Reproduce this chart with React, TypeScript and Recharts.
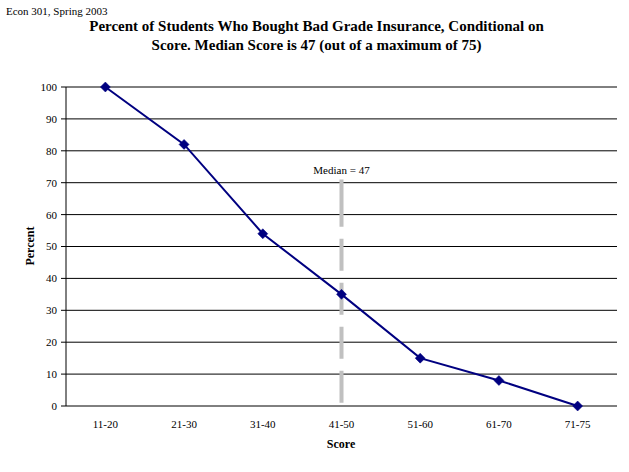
import React from 'react';
import { LineChart, Line, XAxis, YAxis, CartesianGrid, ReferenceLine } from 'recharts';

const categories = ['11-20', '21-30', '31-40', '41-50', '51-60', '61-70', '71-75'];
const percents = [100, 82, 54, 35, 15, 8, 0];
const yTicks = [0, 10, 20, 30, 40, 50, 60, 70, 80, 90, 100];
const medianCategory = '41-50';
const medianLabel = 'Median = 47';
const medianSpan = [1, 71];
const headerText = 'Econ 301, Spring 2003';
const titleLines = [
  'Percent of Students Who Bought Bad Grade Insurance, Conditional on',
  'Score. Median Score is 47 (out of a maximum of 75)',
];

const data = categories.map((score, i) => ({ score, pct: percents[i] }));
const bandEdges = [...categories.map((_, i) => i), categories.length];

const serif = '"Liberation Serif", "Times New Roman", serif';

const Diamond = (props: any) => {
  const { cx, cy } = props;
  if (cx == null || cy == null) return null;
  const r = 5;
  return (
    <polygon
      points={`${cx},${cy - r} ${cx + r},${cy} ${cx},${cy + r} ${cx - r},${cy}`}
      fill="#000080"
      stroke="#000080"
      strokeWidth={0.5}
    />
  );
};

const NoTick = () => <g />;

const tickStyle = { fill: '#000', fontSize: 11, fontFamily: serif, style: { fontFamily: serif } };

export default function App() {
  return (
    <div style={{ position: 'absolute', left: 0, top: 0, width: 629, height: 472, background: '#fff', fontFamily: serif, color: '#000' }}>
      <div style={{ position: 'absolute', left: 6, top: 5, fontSize: 11, whiteSpace: 'nowrap' }}>{headerText}</div>
      <div style={{ position: 'absolute', left: 0, top: 17, width: 629, textAlign: 'center', fontSize: 15, fontWeight: 'bold', lineHeight: '19px' }}>
        <div style={{ position: 'relative', left: 2 }}>{titleLines[0]}</div>
        <div style={{ position: 'relative', left: 2 }}>{titleLines[1]}</div>
      </div>
      <LineChart width={629} height={472} data={data} margin={{ top: 87, right: 12, left: 0, bottom: 0 }} style={{ fontFamily: serif }}>
        <CartesianGrid xAxisId="cat" vertical={false} stroke="#000" strokeWidth={1} />
        <XAxis
          xAxisId="marks"
          type="number"
          domain={[0, categories.length]}
          ticks={bandEdges}
          allowDataOverflow
          height={0}
          tick={NoTick}
          tickSize={5}
          stroke="#000"
          axisLine={{ stroke: '#000' }}
          tickLine={{ stroke: '#000' }}
        />
        <XAxis
          xAxisId="cat"
          dataKey="score"
          type="category"
          scale="band"
          height={66}
          interval={0}
          axisLine={false}
          tickLine={false}
          tickSize={0}
          tickMargin={14}
          tick={tickStyle}
        />
        <YAxis
          domain={[0, 100]}
          ticks={yTicks}
          width={66}
          interval={0}
          tickSize={5}
          tickMargin={4}
          stroke="#000"
          axisLine={{ stroke: '#000' }}
          tickLine={{ stroke: '#000' }}
          tick={tickStyle}
        />
        <YAxis
          yAxisId="right"
          orientation="right"
          domain={[0, 100]}
          width={0}
          tick={false}
          tickLine={false}
          axisLine={{ stroke: '#000' }}
        />
        <ReferenceLine
          xAxisId="cat"
          segment={[
            { x: medianCategory, y: medianSpan[0] },
            { x: medianCategory, y: medianSpan[1] },
          ]}
          stroke="#c0c0c0"
          strokeWidth={4}
          strokeDasharray="32 12 32 12 32 12 32 12 48"
          label={{ value: medianLabel, position: 'top', fill: '#000', fontSize: 11, fontFamily: serif, offset: 6 }}
        />
        <Line
          xAxisId="cat"
          dataKey="pct"
          stroke="#000080"
          strokeWidth={2}
          dot={<Diamond />}
          activeDot={false}
          isAnimationActive={false}
        />
      </LineChart>
      <div style={{ position: 'absolute', left: 241, width: 200, top: 437, textAlign: 'center', fontSize: 12, fontWeight: 'bold' }}>Score</div>
      <div style={{ position: 'absolute', left: 30, top: 246, width: 0, height: 0 }}>
        <div style={{ position: 'absolute', left: -50, top: -8, width: 100, textAlign: 'center', fontSize: 12, fontWeight: 'bold', transform: 'rotate(-90deg)', lineHeight: '16px' }}>Percent</div>
      </div>
    </div>
  );
}
